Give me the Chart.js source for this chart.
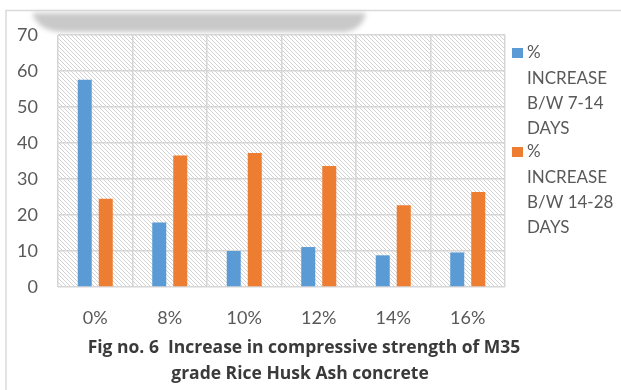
<!DOCTYPE html>
<html>
<head>
<meta charset="utf-8">
<script src="https://cdn.jsdelivr.net/npm/chart.js@4.4.1/dist/chart.umd.min.js"></script>
<style>
  html, body { margin: 0; padding: 0; background: #ffffff; }
  #wrap { position: relative; width: 621px; height: 390px; }
  canvas { position: absolute; left: 0; top: 0; }
</style>
</head>
<body>
<div id="wrap"><canvas id="chart" width="621" height="390"></canvas></div>
<script>
// Rice husk ash replacement levels
const categories = ['0%', '8%', '10%', '12%', '14%', '16%'];

// Percentage strength gain between curing ages
const increase7to14 = [57.6, 17.9, 10.0, 11.1, 8.8, 9.6];
const increase14to28 = [24.5, 36.5, 37.2, 33.6, 22.7, 26.4];

// Legend text, as wrapped lines
const series1Lines = ['%', 'INCREASE', 'B/W 7-14', 'DAYS'];
const series2Lines = ['%', 'INCREASE', 'B/W 14-28', 'DAYS'];

// Value axis ticks
const yTicks = [0, 10, 20, 30, 40, 50, 60, 70];

// Figure caption
const captionLines = [
  'Fig no. 6  Increase in compressive strength of M35',
  'grade Rice Husk Ash concrete'
];

const BLUE = '#5B9BD5';
const ORANGE = '#ED7D31';
const TEXT = '#595959';
const FONT = 'Lato, "Open Sans", "DejaVu Sans", sans-serif';
const CAPTION_FONT = '"Open Sans", Lato, "DejaVu Sans", sans-serif';

// diagonal hatch fill for the plot area
function makeHatch() {
  const c = document.createElement('canvas');
  c.width = 4; c.height = 4;
  const g = c.getContext('2d');
  g.fillStyle = '#ffffff';
  g.fillRect(0, 0, 4, 4);
  g.strokeStyle = '#d2d2d2';
  g.lineWidth = 1;
  g.beginPath();
  g.moveTo(-1, -1); g.lineTo(5, 5);
  g.moveTo(-1, 3); g.lineTo(1, 5);
  g.moveTo(3, -1); g.lineTo(5, 1);
  g.stroke();
  return g.createPattern(c, 'repeat');
}

const backdrop = {
  id: 'backdrop',
  beforeDraw(chart) {
    const ctx = chart.ctx;
    const a = chart.chartArea;
    ctx.save();
    // outer frame
    ctx.strokeStyle = '#dadada';
    ctx.lineWidth = 1.5;
    ctx.beginPath();
    ctx.moveTo(6, 390);
    ctx.lineTo(6, 10.5);
    ctx.lineTo(621, 10.5);
    ctx.stroke();
    // soft grey band along the top edge
    ctx.filter = 'blur(2.5px)';
    ctx.fillStyle = '#c9c9c9';
    ctx.beginPath();
    ctx.moveTo(32, 13);
    ctx.quadraticCurveTo(38, 31, 62, 32);
    ctx.lineTo(345, 32);
    ctx.quadraticCurveTo(362, 30, 366, 13);
    ctx.closePath();
    ctx.fill();
    ctx.filter = 'none';
    // hatched plot area
    ctx.fillStyle = makeHatch();
    ctx.fillRect(a.left, a.top, a.right - a.left, a.bottom - a.top);
    ctx.restore();
  }
};

const decorations = {
  id: 'decorations',
  afterDraw(chart) {
    const ctx = chart.ctx;
    ctx.save();
    // legend
    const groups = [
      { color: BLUE, lines: series1Lines, top: 48 },
      { color: ORANGE, lines: series2Lines, top: 147 }
    ];
    ctx.font = '17px ' + FONT;
    ctx.textBaseline = 'middle';
    ctx.textAlign = 'left';
    groups.forEach(gr => {
      ctx.fillStyle = gr.color;
      ctx.fillRect(512, gr.top, 11, 10);
      ctx.fillStyle = TEXT;
      gr.lines.forEach((t, i) => {
        ctx.fillText(t, 527, gr.top + 5 + i * 25.3);
      });
    });
    // caption
    ctx.font = 'bold 17.5px ' + CAPTION_FONT;
    ctx.fillStyle = '#3a3a3a';
    ctx.textAlign = 'center';
    ctx.fillText(captionLines[0], 304, 348);
    ctx.fillText(captionLines[1], 300, 374);
    ctx.restore();
  }
};

new Chart(document.getElementById('chart'), {
  type: 'bar',
  data: {
    labels: categories,
    datasets: [
      {
        label: series1Lines.join(' '),
        data: increase7to14,
        backgroundColor: BLUE,
        categoryPercentage: 0.564,
        barPercentage: 0.667
      },
      {
        label: series2Lines.join(' '),
        data: increase14to28,
        backgroundColor: ORANGE,
        categoryPercentage: 0.564,
        barPercentage: 0.667
      }
    ]
  },
  options: {
    responsive: false,
    animation: false,
    layout: { padding: { left: 0, top: 35, right: 116, bottom: 63 } },
    plugins: {
      legend: { display: false },
      tooltip: { enabled: false }
    },
    scales: {
      x: {
        grid: { color: '#d6d6d6', lineWidth: 1.5, drawTicks: false, offset: true },
        border: { display: false },
        ticks: { color: TEXT, font: { family: FONT, size: 18 }, padding: 20 },
        afterFit(scale) { scale.height = 40; }
      },
      y: {
        min: 0,
        max: 70,
        afterBuildTicks(scale) { scale.ticks = yTicks.map(v => ({ value: v })); },
        grid: { color: '#d6d6d6', lineWidth: 1.5, drawTicks: false },
        border: { display: false },
        ticks: { color: TEXT, font: { family: FONT, size: 18 }, padding: 20 },
        afterFit(scale) { scale.width = 58; }
      }
    }
  },
  plugins: [backdrop, decorations]
});
</script>
</body>
</html>
